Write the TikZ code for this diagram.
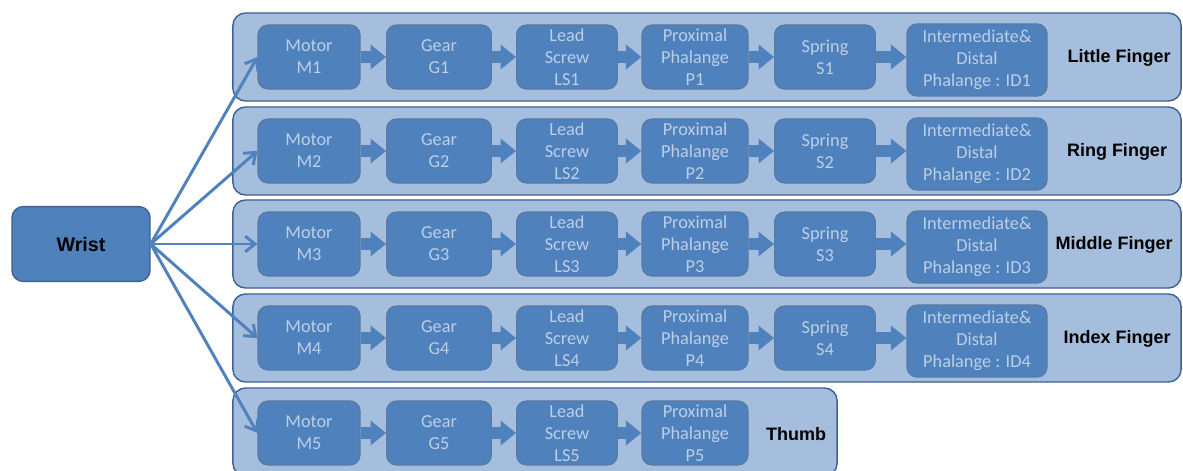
\documentclass[tikz,border=0pt]{standalone}
\usepackage{fontspec}
\setmainfont{Carlito}
\newfontfamily\arialfont{Liberation Sans}
\usepackage{tikz}
\usetikzlibrary{arrows.meta,positioning}
\usepackage{xcolor}
\definecolor{officeblue}{RGB}{79,129,189}
\definecolor{officebluedark}{RGB}{60,98,145}
\definecolor{rowblue}{RGB}{166,190,221}
\definecolor{parttext}{RGB}{188,207,230}

\begin{document}
\begin{tikzpicture}[x=0.025cm, y=-0.025cm,
    finger/.style={rectangle, rounded corners=9pt, draw=officebluedark, line width=1pt, fill=rowblue,
                   minimum width=23.7cm, minimum height=2.2cm},
    thumbrow/.style={finger, minimum width=15.1cm},
    part/.style={rectangle, rounded corners=7pt, draw=officebluedark!85, line width=0.8pt, fill=officeblue,
                 text=parttext, align=center, font=\fontsize{13}{15.5}\selectfont,
                 minimum height=1.6cm, inner sep=0pt},
    motor/.style={part, minimum width=2.55cm},
    gear/.style={part, minimum width=2.62cm},
    screw/.style={part, minimum width=2.52cm},
    prox/.style={part, minimum width=2.65cm},
    spring/.style={part, minimum width=2.52cm},
    distal/.style={part, minimum width=3.5cm, minimum height=1.8cm},
    wristbox/.style={rectangle, rounded corners=8pt, draw=officebluedark, line width=1pt, fill=officeblue,
                     minimum width=3.45cm, minimum height=1.87cm,
                     font=\arialfont\bfseries\fontsize{14}{16}\selectfont},
    fingername/.style={font=\arialfont\bfseries\fontsize{12.8}{14}\selectfont, text=black},
    feed/.style={draw=officeblue, line width=2.1pt, -{Straight Barb[length=7pt,width=11pt]}},
    push/.style={draw=officeblue, line width=8pt, -{Triangle[length=11pt,width=17pt]}}
]
    \useasboundingbox (0,0) rectangle (1183,471);

    \node[finger] (little) at (707,57) {};
    \node[finger] (ring) at (707,151) {};
    \node[finger] (middle) at (707,244) {};
    \node[finger] (index) at (707,338) {};
    \node[thumbrow] (thumb) at (535,432) {};

    \node[wristbox] (wrist) at (81,244) {Wrist};

    \node[motor] (m1) at (309,57) {Motor\\M1};
    \node[gear] (g1) at (439,57) {Gear\\G1};
    \node[screw] (ls1) at (567,57) {Lead\\Screw\\LS1};
    \node[prox] (p1) at (695,57) {Proximal\\Phalange\\P1};
    \node[spring] (s1) at (825,57) {Spring\\S1};
    \node[distal] (id1) at (977,60) {Intermediate\&\\Distal\\Phalange : ID1};
    \node[fingername] (n1) at (1119,58) {Little Finger};

    \node[motor] (m2) at (309,151) {Motor\\M2};
    \node[gear] (g2) at (439,151) {Gear\\G2};
    \node[screw] (ls2) at (567,151) {Lead\\Screw\\LS2};
    \node[prox] (p2) at (695,151) {Proximal\\Phalange\\P2};
    \node[spring] (s2) at (825,151) {Spring\\S2};
    \node[distal] (id2) at (977,154) {Intermediate\&\\Distal\\Phalange : ID2};
    \node[fingername] (n2) at (1117,152) {Ring Finger};

    \node[motor] (m3) at (309,244) {Motor\\M3};
    \node[gear] (g3) at (439,244) {Gear\\G3};
    \node[screw] (ls3) at (567,244) {Lead\\Screw\\LS3};
    \node[prox] (p3) at (695,244) {Proximal\\Phalange\\P3};
    \node[spring] (s3) at (825,244) {Spring\\S3};
    \node[distal] (id3) at (977,247) {Intermediate\&\\Distal\\Phalange : ID3};
    \node[fingername] (n3) at (1114,245) {Middle Finger};

    \node[motor] (m4) at (309,338) {Motor\\M4};
    \node[gear] (g4) at (439,338) {Gear\\G4};
    \node[screw] (ls4) at (567,338) {Lead\\Screw\\LS4};
    \node[prox] (p4) at (695,338) {Proximal\\Phalange\\P4};
    \node[spring] (s4) at (825,338) {Spring\\S4};
    \node[distal] (id4) at (977,341) {Intermediate\&\\Distal\\Phalange : ID4};
    \node[fingername] (n4) at (1117,339) {Index Finger};

    \node[motor] (m5) at (309,433) {Motor\\M5};
    \node[gear] (g5) at (439,433) {Gear\\G5};
    \node[screw] (ls5) at (567,433) {Lead\\Screw\\LS5};
    \node[prox] (p5) at (695,433) {Proximal\\Phalange\\P5};
    \node[fingername] (n5) at (796,434) {Thumb};

    \draw[push] (m1) -- (g1);  \draw[push] (g1) -- (ls1);  \draw[push] (ls1) -- (p1);
    \draw[push] (p1) -- (s1);  \draw[push] (s1) -- (id1.west |- s1);
    \draw[push] (m2) -- (g2);  \draw[push] (g2) -- (ls2);  \draw[push] (ls2) -- (p2);
    \draw[push] (p2) -- (s2);  \draw[push] (s2) -- (id2.west |- s2);
    \draw[push] (m3) -- (g3);  \draw[push] (g3) -- (ls3);  \draw[push] (ls3) -- (p3);
    \draw[push] (p3) -- (s3);  \draw[push] (s3) -- (id3.west |- s3);
    \draw[push] (m4) -- (g4);  \draw[push] (g4) -- (ls4);  \draw[push] (ls4) -- (p4);
    \draw[push] (p4) -- (s4);  \draw[push] (s4) -- (id4.west |- s4);
    \draw[push] (m5) -- (g5);  \draw[push] (g5) -- (ls5);  \draw[push] (ls5) -- (p5);

    \draw[feed] (wrist.east) -- (m1.west);
    \draw[feed] (wrist.east) -- (m2.west);
    \draw[feed] (wrist.east) -- (m3.west);
    \draw[feed] (wrist.east) -- (m4.west);
    \draw[feed] (wrist.east) -- (m5.west);
\end{tikzpicture}
\end{document}
